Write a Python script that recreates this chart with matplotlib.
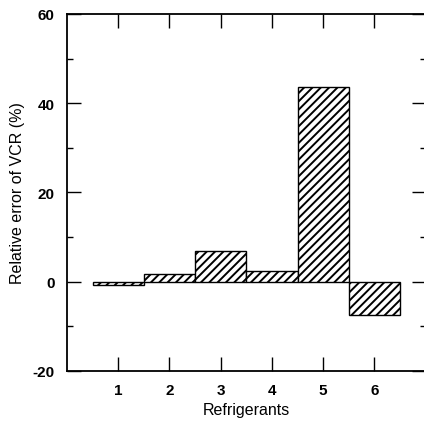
import numpy as np
import matplotlib
matplotlib.use("Agg")
import matplotlib.pyplot as plt
from matplotlib.ticker import MultipleLocator

plt.rcParams['font.family'] = ['Liberation Sans', 'DejaVu Sans']
plt.rcParams['hatch.linewidth'] = 1.4
plt.rcParams['axes.unicode_minus'] = False

refrigerants = [1, 2, 3, 4, 5, 6]
rel_error = [-0.8, 1.7, 6.8, 2.5, 43.6, -7.5]
yticks = [-20, 0, 20, 40, 60]

fig = plt.figure(figsize=(4.24, 4.27), dpi=100)
ax = fig.add_axes([0.158, 0.129, 0.846, 0.836])

ax.bar(refrigerants, rel_error, width=1.0, color="white", edgecolor="black",
       linewidth=1.0, hatch="////")

ax.set_xlim(0, 7)
ax.set_ylim(-20, 60)
ax.set_xticks(refrigerants)
ax.set_yticks(yticks)
ax.yaxis.set_minor_locator(MultipleLocator(10))
ax.tick_params(direction="in", top=True, right=True, length=10, width=1,
               labelsize=11, pad=9)
ax.tick_params(which="minor", direction="in", right=True, length=4, width=1)
for lab in ax.get_xticklabels() + ax.get_yticklabels():
    lab.set_fontweight("bold")
    lab.set_fontsize(11)

for s in ax.spines.values():
    s.set_linewidth(1.3)

ax.set_xlabel("Refrigerants", fontsize=11.5, labelpad=3)
ax.set_ylabel("Relative error of VCR (%)", fontsize=11.5, labelpad=5)

fig.savefig("out.png", dpi=100)
